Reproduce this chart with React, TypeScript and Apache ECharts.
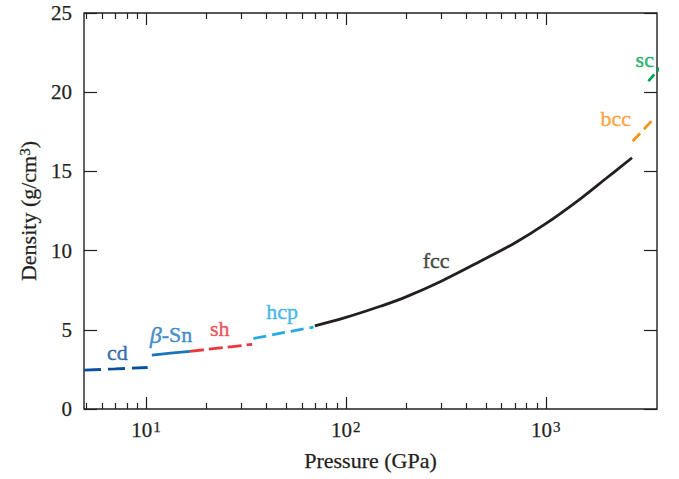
import React, { useEffect, useRef } from 'react';
import * as echarts from 'echarts';

const FONT = "'Liberation Serif', 'Times New Roman', Times, serif";
const INK = '#231f20';
const AXIS_STROKE_W = 0.25;
const LABEL_STROKE_W = 0.45;

// ---- data (pressure in GPa, density in g/cm^3) ----
const cdPressure = [4.9, 7, 10.2];
const cdDensity = [2.45, 2.53, 2.62];

const betaSnPressure = [10.7, 13.3, 16.6];
const betaSnDensity = [3.4, 3.53, 3.64];

const shPressure = [16.6, 23.5, 34];
const shDensity = [3.64, 3.86, 4.08];

const hcpPressure = [34.5, 48, 69];
const hcpDensity = [4.45, 4.8, 5.17];

const fccPressure = [70, 100, 150, 200, 300, 500, 700, 1000, 1500, 2000, 2700];
const fccDensity = [5.25, 5.78, 6.5, 7.08, 8.07, 9.5, 10.48, 11.7, 13.3, 14.55, 15.86];

const bccPressure = [2720, 3390];
const bccDensity = [16.9, 18.2];

const scPressure = [3260, 3850];
const scDensity = [20.7, 21.75];

// tick values of the pressure axis
const majorPressureTicks = [10, 100, 1000];
const minorPressureTicks = [5, 6, 7, 8, 9, 20, 30, 40, 50, 60, 70, 80, 90, 200, 300, 400, 500, 600, 700, 800, 900];

// phase annotations
const phaseNames = ['cd', 'β-Sn', 'sh', 'hcp', 'fcc', 'bcc', 'sc'];
const phaseLabelPressure = [7.19, 13.35, 23.4, 48, 283, 2240, 3126];
const phaseLabelDensity = [3.55, 4.69, 5.06, 6.17, 9.35, 18.36, 22.08];

const phaseColors: Record<string, string> = {
  cd: '#0b4f9c',
  'β-Sn': '#1b75bc',
  sh: '#e8383d',
  hcp: '#27aae1',
  fcc: INK,
  bcc: '#f7941d',
  sc: '#00a651',
};

const X_MIN = 4.9;
const X_MAX = 3600;
const Y_MIN = 0;
const Y_MAX = 25;

const inkText = (size: number) => ({
  fontSize: size,
  fontFamily: FONT,
  color: INK,
  textBorderColor: INK,
  textBorderWidth: AXIS_STROKE_W,
});

function lineSeries(name: string, p: number[], d: number[], dash: any, smooth: number | boolean) {
  return {
    type: 'line',
    name,
    data: p.map((v, i) => [v, d[i]]),
    showSymbol: false,
    symbol: 'none',
    smooth,
    clip: false,
    silent: true,
    z: 3,
    lineStyle: { color: phaseColors[name], width: 2.8, type: dash, cap: 'butt' },
  };
}

export default function App() {
  const ref = useRef<HTMLDivElement>(null);

  useEffect(() => {
    const chart = echarts.init(ref.current!, null, { renderer: 'svg' });

    const tickData = [
      ...minorPressureTicks.map((p) => [p, 0]),
      ...majorPressureTicks.map((p) => [p, 1]),
    ];

    const option: any = {
      animation: false,
      backgroundColor: '#ffffff',
      grid: {
        left: 84,
        right: 22,
        top: 13,
        bottom: 70,
        show: true,
        borderColor: INK,
        borderWidth: 1.4,
        backgroundColor: 'transparent',
      },
      xAxis: {
        type: 'log',
        logBase: 10,
        min: X_MIN,
        max: X_MAX,
        axisLine: { show: false },
        axisTick: { show: false },
        splitLine: { show: false },
        axisLabel: {
          margin: 10,
          showMinLabel: false,
          showMaxLabel: false,
          hideOverlap: false,
          formatter: (v: number) => {
            const e = Math.log10(v);
            if (Math.abs(e - Math.round(e)) > 1e-6) return '';
            return `{b|10}{s|${Math.round(e)}}`;
          },
          rich: {
            b: { ...inkText(21), lineHeight: 22 },
            s: { ...inkText(15), verticalAlign: 'top', lineHeight: 14, padding: [0, 0, 0, 1] },
          },
        },
        name: 'Pressure (GPa)',
        nameLocation: 'middle',
        nameGap: 40,
        nameTextStyle: inkText(22),
      },
      yAxis: [
        {
          type: 'value',
          min: Y_MIN,
          max: Y_MAX,
          interval: 5,
          axisLine: { show: false },
          axisTick: { show: true, inside: true, length: 13, lineStyle: { color: INK, width: 1.2 } },
          splitLine: { show: false },
          axisLabel: { margin: 12, ...inkText(21) },
          name: 'Density (g/cm{s|3})',
          nameLocation: 'middle',
          nameGap: 45,
          nameTextStyle: {
            ...inkText(22),
            rich: { s: { ...inkText(15), verticalAlign: 'top', lineHeight: 14 } },
          },
        },
        {
          type: 'value',
          position: 'right',
          min: Y_MIN,
          max: Y_MAX,
          interval: 5,
          axisLine: { show: false },
          axisTick: { show: true, inside: true, length: 13, lineStyle: { color: INK, width: 1.2 } },
          splitLine: { show: false },
          axisLabel: { show: false },
        },
      ],
      series: [
        {
          type: 'custom',
          name: 'pressureTicks',
          xAxisIndex: 0,
          yAxisIndex: 0,
          silent: true,
          clip: false,
          encode: { x: 0, y: 1 },
          data: tickData,
          renderItem: (_params: any, api: any) => {
            const v = api.value(0);
            const major = api.value(1) === 1;
            const len = major ? 12 : 6;
            const b = api.coord([v, Y_MIN]);
            const t = api.coord([v, Y_MAX]);
            const x = Math.round(b[0]) + 0.5;
            const style = { stroke: INK, lineWidth: 1.2 };
            return {
              type: 'group',
              children: [
                { type: 'line', shape: { x1: x, y1: b[1], x2: x, y2: b[1] - len }, style },
                { type: 'line', shape: { x1: x, y1: t[1], x2: x, y2: t[1] + len }, style },
              ],
            };
          },
        },
        lineSeries('cd', cdPressure, cdDensity, [17, 7], false),
        lineSeries('β-Sn', betaSnPressure, betaSnDensity, 'solid', false),
        lineSeries('sh', shPressure, shDensity, [14, 5], false),
        lineSeries('hcp', hcpPressure, hcpDensity, [13, 6], false),
        lineSeries('fcc', fccPressure, fccDensity, 'solid', 0.4),
        lineSeries('bcc', bccPressure, bccDensity, [11, 5.5], false),
        lineSeries('sc', scPressure, scDensity, [9, 4], false),
        {
          type: 'scatter',
          name: 'labels',
          symbolSize: 0.1,
          itemStyle: { color: 'rgba(0,0,0,0)' },
          silent: true,
          clip: false,
          z: 4,
          data: phaseNames.map((n, i) => ({
            value: [phaseLabelPressure[i], phaseLabelDensity[i]],
            name: n,
            label: { color: phaseColors[n], textBorderColor: phaseColors[n] },
          })),
          label: {
            show: true,
            position: 'inside',
            fontSize: 22,
            fontFamily: FONT,
            textBorderWidth: LABEL_STROKE_W,
            textShadowBlur: 0,
            formatter: (p: any) => (p.name === 'β-Sn' ? '{i|β}-Sn' : p.name),
            rich: { i: { fontSize: 24, fontFamily: FONT, fontStyle: 'italic' } },
          },
        },
      ],
    };

    chart.setOption(option);
    return () => chart.dispose();
  }, []);

  return (
    <div
      ref={ref}
      style={{ position: 'absolute', left: 0, top: 0, width: 679, height: 479, background: '#fff' }}
    />
  );
}
